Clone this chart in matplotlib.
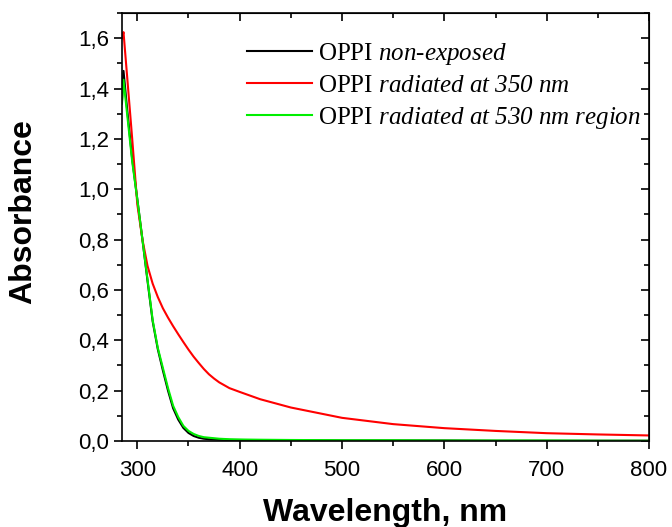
import numpy as np
import matplotlib
matplotlib.use("Agg")
import matplotlib.pyplot as plt
from matplotlib.ticker import MultipleLocator, FuncFormatter

# wavelength grid (nm)
wl = [285, 286.5, 290, 295, 300, 305, 310, 315, 320, 325, 330, 335, 340, 345,
      350, 355, 360, 365, 370, 375, 380, 390, 400, 420, 450, 500, 550, 600,
      650, 700, 750, 800]

# absorbance values
abs_nonexposed = [1.35, 1.47, 1.32, 1.12, 0.96, 0.80, 0.635, 0.475, 0.365, 0.28,
                  0.20, 0.13, 0.085, 0.052, 0.032, 0.020, 0.013, 0.009, 0.007,
                  0.006, 0.005, 0.004, 0.004, 0.003, 0.003, 0.002, 0.002, 0.002,
                  0.001, 0.001, 0.001, 0.001]
abs_350 = [1.60, 1.624, 1.45, 1.20, 0.94, 0.80, 0.695, 0.625, 0.572, 0.527,
           0.49, 0.456, 0.424, 0.393, 0.363, 0.335, 0.31, 0.286, 0.265, 0.248,
           0.233, 0.21, 0.195, 0.166, 0.133, 0.092, 0.067, 0.051, 0.040,
           0.031, 0.026, 0.022]
abs_530 = [1.34, 1.435, 1.30, 1.11, 0.96, 0.80, 0.64, 0.48, 0.37, 0.29,
           0.21, 0.14, 0.095, 0.06, 0.04, 0.028, 0.02, 0.015, 0.013, 0.011,
           0.009, 0.007, 0.006, 0.005, 0.004, 0.003, 0.003, 0.002, 0.002,
           0.002, 0.001, 0.001]

plt.rcParams['font.family'] = ['Liberation Sans', 'DejaVu Sans']
plt.rcParams['mathtext.fontset'] = 'custom'
plt.rcParams['mathtext.rm'] = 'Liberation Serif:italic'
plt.rcParams['mathtext.it'] = 'Liberation Serif:italic'

fig = plt.figure(figsize=(6.72, 5.27), dpi=100)
ax = fig.add_axes([0.1815, 0.1632, 0.7843, 0.8121])

ax.plot(wl, abs_nonexposed, color='black', lw=1.5, label=r'OPPI $non$-$exposed$')
ax.plot(wl, abs_350, color='#ff0000', lw=1.5, label=r'OPPI $radiated\ at\ 350\ nm$')
ax.plot(wl, abs_530, color='#00ee00', lw=1.5, label=r'OPPI $radiated\ at\ 530\ nm\ region$')

ax.set_xlim(285, 800)
ax.set_ylim(0, 1.7)
ax.xaxis.set_major_locator(MultipleLocator(100))
ax.xaxis.set_minor_locator(MultipleLocator(50))
ax.yaxis.set_major_locator(MultipleLocator(0.2))
ax.yaxis.set_minor_locator(MultipleLocator(0.1))
ax.yaxis.set_major_formatter(FuncFormatter(lambda v, p: f"{v:.1f}".replace('.', ',')))

for s in ax.spines.values():
    s.set_linewidth(1.2)
ax.tick_params(which='both', direction='out', width=1.2, labelsize=16)
ax.tick_params(which='major', length=6)
ax.tick_params(which='minor', length=3.5)
ax.tick_params(axis='x', pad=8)

# mirrored ticks on top and right
axt = ax.secondary_xaxis('top')
axt.xaxis.set_major_locator(MultipleLocator(100))
axt.xaxis.set_minor_locator(MultipleLocator(50))
axt.tick_params(which='both', direction='in', width=1.2, labeltop=False)
axt.tick_params(which='major', length=6)
axt.tick_params(which='minor', length=3.5)
axr = ax.secondary_yaxis('right')
axr.yaxis.set_major_locator(MultipleLocator(0.2))
axr.yaxis.set_minor_locator(MultipleLocator(0.1))
axr.tick_params(which='both', direction='in', width=1.2, labelright=False)
axr.tick_params(which='major', length=6)
axr.tick_params(which='minor', length=3.5)

ax.set_xlabel('Wavelength, nm', fontsize=23, fontweight='bold')
ax.set_ylabel('Absorbance', fontsize=23, fontweight='bold')
ax.xaxis.set_label_coords(0.5, -0.133)
ax.yaxis.set_label_coords(-0.159, 0.537)

ax.legend(loc='upper right', frameon=False, prop={'family': 'Liberation Serif', 'size': 18},
          handlelength=2.6, handletextpad=0.24, labelspacing=0.3, borderpad=0.1,
          borderaxespad=0.0, bbox_to_anchor=(0.99, 0.94))

fig.savefig('out.png', dpi=100)
